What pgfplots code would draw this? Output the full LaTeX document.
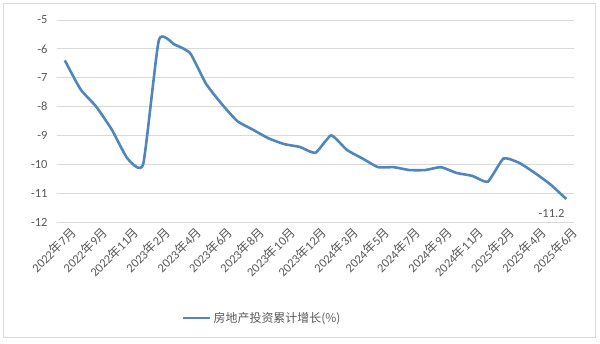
\documentclass[border=0pt]{standalone}
\usepackage{pgfplots}
\pgfplotsset{compat=1.18}
\usepackage{fontspec}
\setmainfont{Carlito}
\newfontfamily\cjk{Noto Sans CJK SC}
\newcommand\N{{\cjk 年}}
\newcommand\Y{{\cjk 月}}
\definecolor{lineblue}{HTML}{4F86BE}
\definecolor{gridgray}{HTML}{D9D9D9}
\definecolor{txtgray}{HTML}{595959}
\begin{document}
\begin{tikzpicture}
\begin{axis}[
  scale only axis,
  width=517bp, height=202bp,
  xmin=-0.5, xmax=32.5,
  ymin=-12, ymax=-5,
  ytick={-12,-11,-10,-9,-8,-7,-6,-5},
  xtick={0,2,4,6,8,10,12,14,16,18,20,22,24,26,28,30,32},
  xticklabels={2022\N7\Y,2022\N9\Y,2022\N11\Y,2023\N2\Y,2023\N4\Y,2023\N6\Y,2023\N8\Y,2023\N10\Y,2023\N12\Y,2024\N3\Y,2024\N5\Y,2024\N7\Y,2024\N9\Y,2024\N11\Y,2025\N2\Y,2025\N4\Y,2025\N6\Y},
  ymajorgrids,
  grid style={gridgray, line width=0.8pt},
  axis line style={draw=none},
  major tick style={draw=none},
  tick label style={font=\fontsize{12.5}{14}\selectfont, text=txtgray},
  /pgf/number format/assume math mode=true,
  yticklabel style={xshift=-6bp},
  xticklabel style={rotate=45, anchor=east, xshift=4bp, yshift=-12bp},
  legend style={at={(0.397,-0.475)}, anchor=center, draw=none, fill=none,
    font=\fontsize{12}{14}\selectfont\cjk, text=txtgray},
  legend image code/.code={\draw[#1, line width=2.6pt] (0bp,0bp) -- (27bp,0bp);},
  clip=false,
]
\addplot[lineblue, line width=2.6pt, smooth, tension=0.3] coordinates {
(0,-6.4) (1,-7.4) (2,-8.0) (3,-8.8) (4,-9.8) (5,-10.0)
(6,-5.7) (7,-5.85) (8,-6.15) (9,-7.2) (10,-7.9) (11,-8.5) (12,-8.8) (13,-9.1) (14,-9.3) (15,-9.4) (16,-9.6)
(17,-9.0) (18,-9.5) (19,-9.8) (20,-10.1) (21,-10.1) (22,-10.2) (23,-10.2) (24,-10.1) (25,-10.3) (26,-10.4) (27,-10.6)
(28,-9.8) (29,-9.95) (30,-10.3) (31,-10.7) (32,-11.2)
} node[pos=1, anchor=north east, xshift=3bp, yshift=-6bp, font=\fontsize{12.5}{14}\selectfont, text=txtgray] {-11.2};
\addlegendentry{房地产投资累计增长(\%)}
\draw[gridgray, line width=0.8pt] (rel axis cs:0,0) ++(-54bp,-115bp) rectangle ++(592bp,334bp);
\path (rel axis cs:0,0) ++(-57bp,-122bp) coordinate (bbA);
\path (rel axis cs:0,0) ++(543bp,222bp) coordinate (bbB);
\end{axis}
\useasboundingbox (bbA) rectangle (bbB);
\end{tikzpicture}
\end{document}
